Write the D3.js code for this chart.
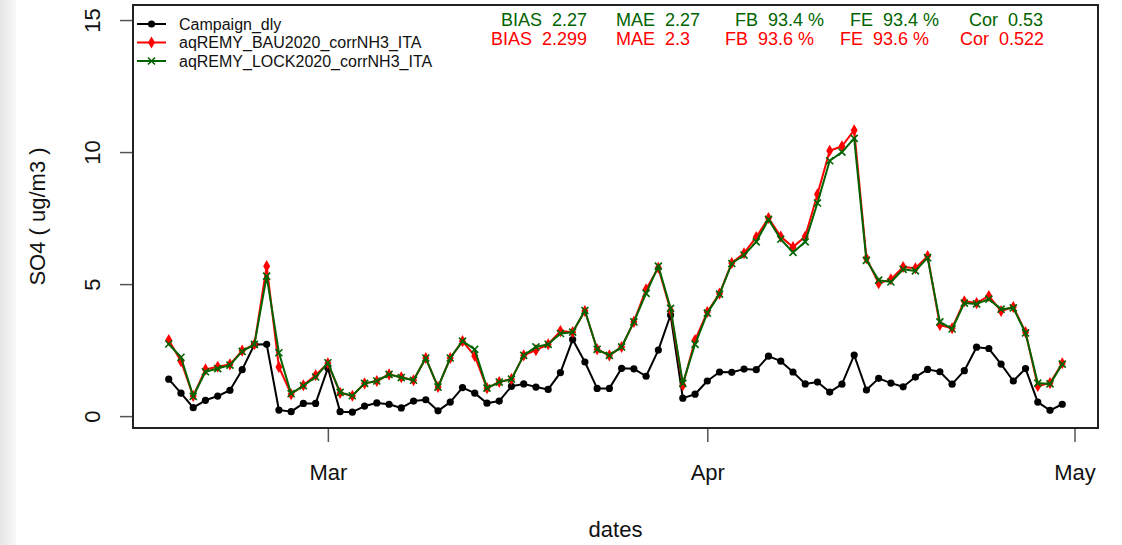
<!DOCTYPE html>
<html>
<head>
<meta charset="utf-8">
<script src="https://cdn.jsdelivr.net/npm/d3@7"></script>
<style>
  html, body { margin: 0; padding: 0; background: #fff; }
  svg text { font-family: "Liberation Sans", Arial, Helvetica, sans-serif; }
</style>
</head>
<body>
<div id="chart"></div>
<script>
// daily dates, 17 Feb .. 30 Apr 2020
const startDay = '2020-02-17', endDay = '2020-04-30';

const campaign = [
  1.40, 0.87, 0.32, 0.60, 0.76, 0.98, 1.76, 2.71, 2.72, 0.23, 0.17, 0.48, 0.48,
  1.82, 0.17, 0.15, 0.38, 0.50, 0.45, 0.31, 0.57, 0.62, 0.20, 0.53, 1.08, 0.87, 0.49, 0.57,
  1.13, 1.22, 1.10, 1.01, 1.65, 2.90, 2.05, 1.05, 1.05, 1.81, 1.79, 1.51, 2.50, 3.83, 0.68, 0.83,
  1.33, 1.67, 1.66, 1.78, 1.76, 2.27, 2.08, 1.67, 1.22, 1.29, 0.91, 1.21, 2.31, 0.99, 1.43,
  1.25, 1.11, 1.48, 1.77, 1.68, 1.21, 1.72, 2.61, 2.56, 1.97, 1.33, 1.80, 0.53, 0.22, 0.45
];
const bau2020 = [
  2.88, 2.08, 0.76, 1.77, 1.87, 1.96, 2.48, 2.72, 5.68, 1.86, 0.83, 1.17, 1.55,
  2.00, 0.88, 0.77, 1.24, 1.33, 1.58, 1.47, 1.36, 2.20, 1.10, 2.20, 2.84, 2.28, 1.06, 1.29,
  1.40, 2.30, 2.50, 2.72, 3.22, 3.18, 3.98, 2.53, 2.30, 2.62, 3.57, 4.80, 5.62, 4.00, 1.17, 2.88,
  3.94, 4.64, 5.80, 6.17, 6.78, 7.50, 6.80, 6.40, 6.80, 8.40, 10.05, 10.22, 10.83, 5.98, 5.03,
  5.18, 5.65, 5.60, 6.06, 3.45, 3.33, 4.35, 4.28, 4.55, 3.98, 4.13, 3.18, 1.14, 1.25, 2.00
];
const lock2020 = [
  2.73, 2.23, 0.75, 1.68, 1.80, 1.93, 2.45, 2.72, 5.30, 2.40, 0.85, 1.15, 1.48,
  2.02, 0.90, 0.77, 1.24, 1.33, 1.58, 1.46, 1.36, 2.20, 1.10, 2.20, 2.84, 2.53, 1.06, 1.29,
  1.40, 2.30, 2.62, 2.72, 3.13, 3.18, 4.00, 2.53, 2.30, 2.62, 3.57, 4.65, 5.68, 4.08, 1.24, 2.72,
  3.90, 4.62, 5.78, 6.10, 6.60, 7.45, 6.70, 6.20, 6.60, 8.07, 9.67, 10.00, 10.52, 5.90, 5.15,
  5.08, 5.56, 5.50, 6.00, 3.57, 3.30, 4.28, 4.25, 4.43, 4.05, 4.10, 3.15, 1.25, 1.22, 1.97
];

const seriesNames = ['Campaign_dly', 'aqREMY_BAU2020_corrNH3_ITA', 'aqREMY_LOCK2020_corrNH3_ITA'];
const yTicks = [0, 5, 10, 15];
const yLim = [-0.45, 15.57];

const statNames = ['BIAS', 'MAE', 'FB', 'FE', 'Cor'];
const statsLock = ['2.27', '2.27', '93.4 %', '93.4 %', '0.53'];
const statsBau = ['2.299', '2.3', '93.6 %', '93.6 %', '0.522'];

const width = 1122, height = 545;
const margin = {top: 5, right: 24, bottom: 117, left: 133};

const parse = d3.utcParse('%Y-%m-%d');
const dates = d3.utcDay.range(parse(startDay), d3.utcDay.offset(parse(endDay), 1));

const svg = d3.select('#chart').append('svg')
    .attr('width', width)
    .attr('height', height);

// faint grey strip down the left edge of the screenshot
const grad = svg.append('defs').append('linearGradient')
    .attr('id', 'edge')
    .attr('x1', 0).attr('x2', 1);
grad.append('stop').attr('offset', 0).attr('stop-color', '#e6e6e6');
grad.append('stop').attr('offset', 1).attr('stop-color', '#f8f8f8');
svg.append('rect')
    .attr('width', 16).attr('height', height)
    .attr('fill', 'url(#edge)');

// R style: extend the date range by 4% on each side
const span = dates[dates.length - 1] - dates[0];
const x = d3.scaleUtc()
    .domain([new Date(+dates[0] - 0.04 * span), new Date(+dates[dates.length - 1] + 0.04 * span)])
    .range([margin.left, width - margin.right]);

const y = d3.scaleLinear()
    .domain(yLim)
    .range([height - margin.bottom, margin.top]);

// axes
const xAxis = d3.axisBottom(x)
    .ticks(d3.utcMonth.every(1))
    .tickFormat(d3.utcFormat('%b'))
    .tickSize(14)
    .tickPadding(22);
const gx = svg.append('g')
    .attr('transform', 'translate(0,' + (height - margin.bottom) + ')')
    .call(xAxis);
gx.select('.domain').remove();
gx.selectAll('line').attr('stroke', '#555').attr('stroke-width', 1.5);
gx.selectAll('text')
    .attr('fill', '#111')
    .style('font-size', '22px');

const yAxis = d3.axisLeft(y)
    .tickValues(yTicks)
    .tickSize(13)
    .tickPadding(0);
const gy = svg.append('g')
    .attr('transform', 'translate(' + margin.left + ',0)')
    .call(yAxis);
gy.select('.domain').remove();
gy.selectAll('line').attr('stroke', '#555').attr('stroke-width', 1.5);
gy.selectAll('text')
    .attr('x', null).attr('dy', null)
    .attr('text-anchor', 'middle')
    .attr('transform', 'translate(-33,0) rotate(-90)')
    .attr('fill', '#111')
    .style('font-size', '22px');

// box
svg.append('rect')
    .attr('x', margin.left)
    .attr('y', margin.top)
    .attr('width', width - margin.left - margin.right)
    .attr('height', height - margin.top - margin.bottom)
    .attr('fill', 'none')
    .attr('stroke', '#222')
    .attr('stroke-width', 2);

svg.append('text')
    .attr('x', (margin.left + width - margin.right) / 2)
    .attr('y', 537)
    .attr('text-anchor', 'middle')
    .style('font-size', '22px')
    .attr('fill', '#111')
    .text('dates');

svg.append('text')
    .attr('transform', 'translate(45,' + (margin.top + height - margin.bottom) / 2 + ') rotate(-90)')
    .attr('text-anchor', 'middle')
    .style('font-size', '22px')
    .attr('fill', '#111')
    .text('SO4 ( ug/m3 )');

// series
const series = [
  {name: seriesNames[0], values: campaign, color: '#000', mark: 'dot'},
  {name: seriesNames[1], values: bau2020, color: '#ff0000', mark: 'diamond'},
  {name: seriesNames[2], values: lock2020, color: '#006400', mark: 'x'}
];

const line = d3.line()
    .x((d, i) => x(dates[i]))
    .y(d => y(d));

function drawMark(sel, mark, color) {
  if (mark === 'dot') {
    sel.append('circle').attr('r', 3.6).attr('fill', color);
  } else if (mark === 'diamond') {
    sel.append('path')
        .attr('d', d3.symbol(d3.symbolDiamond, 42)())
        .attr('fill', color);
  } else {
    sel.append('path')
        .attr('d', d3.symbol(d3.symbolX, 34)())
        .attr('fill', 'none')
        .attr('stroke', color)
        .attr('stroke-width', 1.6);
  }
}

series.forEach(s => {
  const g = svg.append('g');
  g.append('path')
      .datum(s.values)
      .attr('d', line)
      .attr('fill', 'none')
      .attr('stroke', s.color)
      .attr('stroke-width', 2)
      .attr('stroke-linejoin', 'round');
  g.selectAll('g.pt')
      .data(s.values)
      .enter()
      .append('g')
      .attr('class', 'pt')
      .attr('transform', (d, i) => 'translate(' + x(dates[i]) + ',' + y(d) + ')')
      .each(function() { drawMark(d3.select(this), s.mark, s.color); });
});

// legend
const legend = svg.append('g')
    .selectAll('g')
    .data(series)
    .enter()
    .append('g')
    .attr('transform', (d, i) => 'translate(137,' + (24 + i * 18.5) + ')');
legend.append('line')
    .attr('x1', 0).attr('x2', 29)
    .attr('stroke', d => d.color)
    .attr('stroke-width', 2);
legend.append('g')
    .attr('transform', 'translate(14.5,0)')
    .each(function(d) { drawMark(d3.select(this), d.mark, d.color); });
legend.append('text')
    .attr('x', 42)
    .attr('dy', '0.35em')
    .style('font-size', '16px')
    .attr('fill', '#111')
    .text(d => d.name);

// statistics
const statX = [587, 616, 735, 850, 969];
const statXBau = [587, 616, 725, 840, 960];
function statRow(vals, xs, yPos, color) {
  svg.append('g')
      .selectAll('text')
      .data(vals)
      .enter()
      .append('text')
      .attr('x', (d, i) => xs[i])
      .attr('y', yPos)
      .attr('text-anchor', (d, i) => i === 0 ? 'end' : 'start')
      .attr('fill', color)
      .style('font-size', '18px')
      .text((d, i) => statNames[i] + '\u00a0\u00a0' + d);
}
statRow(statsLock, statX, 26, '#006400');
statRow(statsBau, statXBau, 45, '#ff0000');
</script>
</body>
</html>
